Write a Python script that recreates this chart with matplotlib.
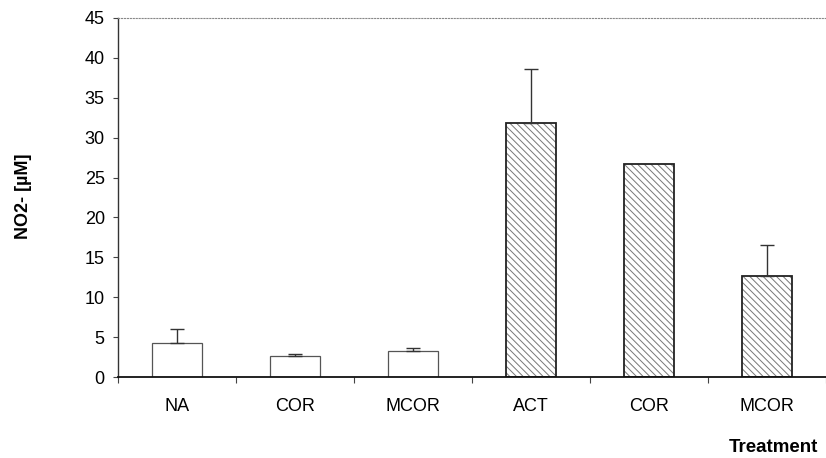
import matplotlib
matplotlib.use('Agg')
import matplotlib.pyplot as plt
import numpy as np

plt.rcParams['font.family'] = ['Liberation Sans', 'DejaVu Sans']
plt.rcParams['hatch.linewidth'] = 0.7

# data
labels = ['NA', 'COR', 'MCOR', 'ACT', 'COR', 'MCOR']
means = [4.3, 2.6, 3.25, 31.8, 26.65, 12.7]
errs = [1.75, 0.25, 0.4, 6.8, 0.0, 3.9]
hatched = [False, False, False, True, True, True]

fig = plt.figure(figsize=(8.26, 4.58), dpi=100)
ax = fig.add_axes([118 / 826, 81 / 458, 708 / 826, 359 / 458])

x = np.arange(len(labels)) + 0.5
for xi, m, e, h in zip(x, means, errs, hatched):
    if h:
        # grey hatch first, then a dark outline on top
        ax.bar(xi, m, width=0.42, facecolor='white', edgecolor='#777777',
               linewidth=0, hatch='\\\\\\\\\\', zorder=2)
        ax.bar(xi, m, width=0.42, facecolor='none', edgecolor='#222222',
               linewidth=1.3, zorder=2.5)
    else:
        ax.bar(xi, m, width=0.42, facecolor='white', edgecolor='#555555',
               linewidth=0.9, zorder=2)
    if e > 0:
        ax.errorbar(xi, m, yerr=[[0], [e]], fmt='none', ecolor='#333333',
                    elinewidth=1.0, capsize=5, capthick=1.0, zorder=3)

ax.set_xlim(0, 6)
ax.set_ylim(0, 45)
ax.set_yticks(np.arange(0, 46, 5))
ax.set_xticks(np.arange(0, 7))
ax.set_xticklabels([])
ax.set_xticks(x, minor=True)
ax.set_xticklabels(labels, minor=True, fontsize=13)
ax.tick_params(axis='x', which='minor', length=0, pad=15)
ax.tick_params(axis='x', which='major', length=4, width=0.8, color='#444444')
ax.tick_params(axis='y', length=3.5, width=0.8, color='#444444', labelsize=13, pad=6)

ax.spines['right'].set_visible(False)
ax.spines['top'].set_linestyle(':')
ax.spines['top'].set_color('#888888')
ax.spines['top'].set_linewidth(0.8)
ax.spines['left'].set_color('#333333')
ax.spines['left'].set_linewidth(1.0)
ax.spines['bottom'].set_color('#111111')
ax.spines['bottom'].set_linewidth(1.3)

fig.text(24 / 826, 1 - 196 / 458, 'NO2- [µM]', rotation=90, ha='center',
         va='center', fontsize=13, fontweight='bold')
fig.text(818 / 826, 1 - 448 / 458, 'Treatment', ha='right', va='center',
         fontsize=13.5, fontweight='bold')

fig.savefig('out.png', dpi=100)
